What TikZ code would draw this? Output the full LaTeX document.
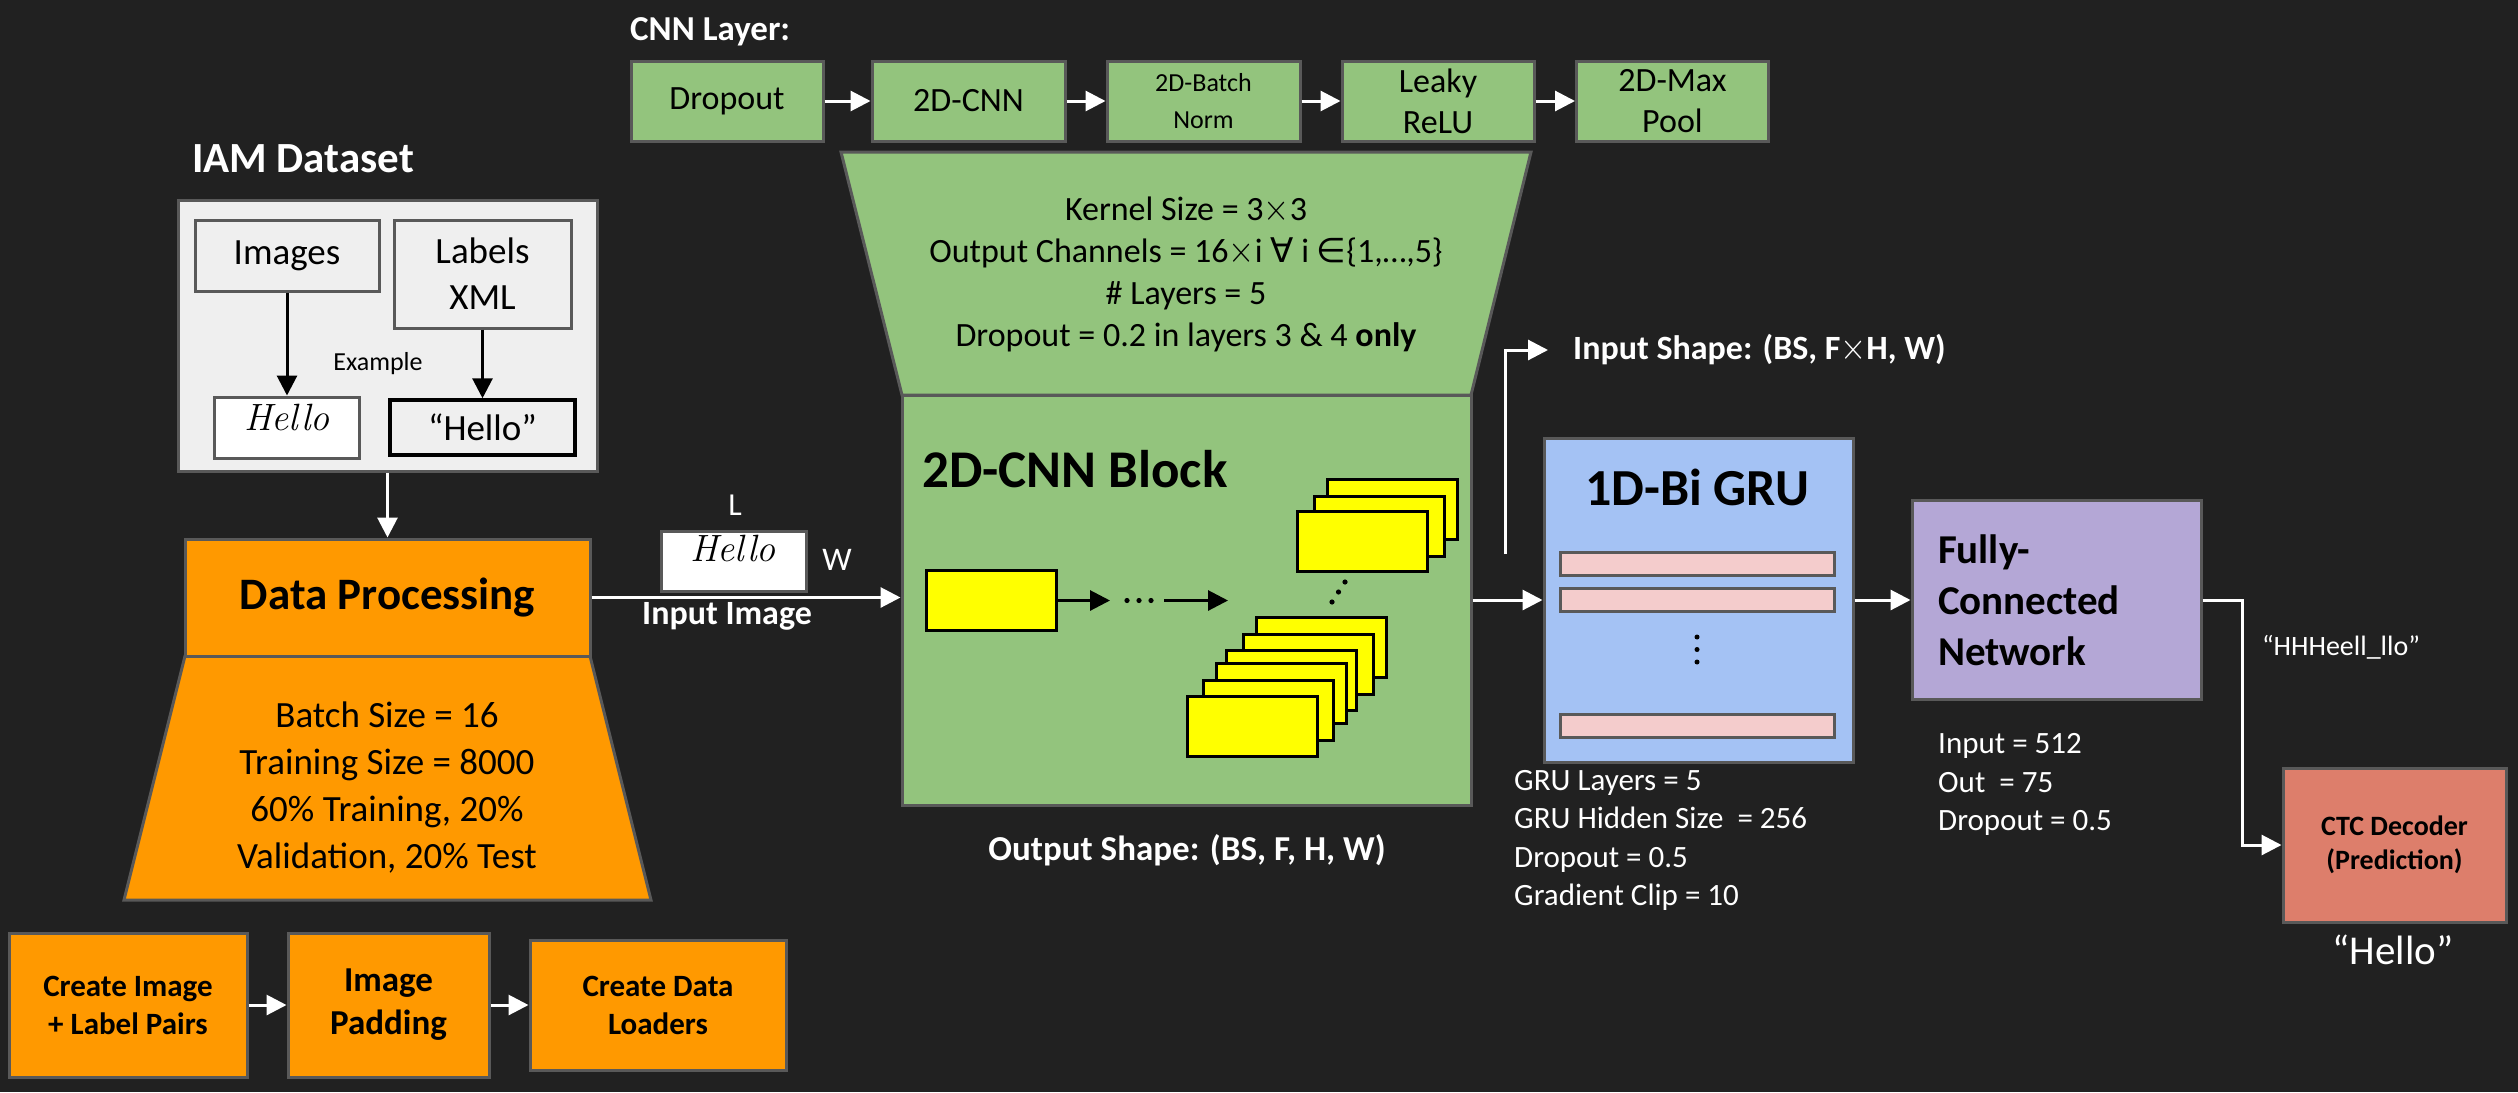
\documentclass[tikz,border=0pt]{standalone}
\usepackage{fontspec}
\setsansfont{Carlito}
\renewcommand*\familydefault{\sfdefault}
\newfontfamily\dejavu{DejaVu Sans}
\usetikzlibrary{arrows.meta}
\definecolor{bg}{HTML}{212121}
\definecolor{grn}{HTML}{93C47D}
\definecolor{org}{HTML}{FF9900}
\definecolor{blu}{HTML}{A4C2F4}
\definecolor{pur}{HTML}{B4A7D6}
\definecolor{redb}{HTML}{DD7E6B}
\definecolor{pnk}{HTML}{F4CCCC}
\definecolor{lgr}{HTML}{EFEFEF}
\definecolor{bdr}{HTML}{595959}
\definecolor{ylw}{HTML}{FFFF00}
\newcommand\fsz[2]{\fontsize{#1}{#2}\selectfont}
\newcommand\thinx{\scalebox{1.35}[1.5]{$\times$}}
\begin{document}
\begin{tikzpicture}[x=1pt,y=-1pt,
  box/.style={draw=bdr, line width=3pt, inner sep=0pt, align=center, text=black},
  ybox/.style={draw=black, fill=ylw, line width=3pt, minimum width=130pt, minimum height=60pt, inner sep=0pt},
  warr/.style={draw=white, line width=3pt, -{Triangle[length=20pt,width=20pt]}},
  barr/.style={draw=black, line width=3pt, -{Triangle[length=20pt,width=20pt]}},
  wtxt/.style={text=white, inner sep=0pt},
  btxt/.style={text=black, inner sep=0pt},
  hand/.style={text=black, inner sep=0pt, font=\rmfamily\itshape\fsz{38}{44}},
]
\fill[bg] (0,0) rectangle (2518,1092);
\useasboundingbox (0,0) rectangle (2518,1092);

% ---------- CNN layer row ----------
\node[wtxt, anchor=base west, font=\bfseries\fsz{35}{42}] (cnnlt) at (630,40) {CNN Layer:};
\node[box, fill=grn, minimum width=192pt, minimum height=80pt, font=\fsz{34}{41}] (drop) at (727,101) {Dropout};
\node[box, fill=grn, minimum width=193pt, minimum height=80pt, font=\fsz{34}{41}] (cnn2d) at (968.5,101) {2D-CNN};
\node[box, fill=grn, minimum width=193pt, minimum height=80pt, font=\fsz{26}{37}] (bn) at (1203.5,101) {2D-Batch\\Norm};
\node[box, fill=grn, minimum width=192pt, minimum height=80pt, font=\fsz{34}{41}] (leaky) at (1438,101) {Leaky\\ReLU};
\node[box, fill=grn, minimum width=192pt, minimum height=80pt, font=\fsz{34}{41}] (maxp) at (1672.5,101) {2D-Max\\Pool};
\draw[warr] (drop.east) -- (cnn2d.west);
\draw[warr] (cnn2d.east) -- (bn.west);
\draw[warr] (bn.east) -- (leaky.west);
\draw[warr] (leaky.east) -- (maxp.west);

% ---------- CNN trapezoid ----------
\draw[draw=bdr, fill=grn, line width=3pt] (841,152) -- (1531,152) -- (1471,395) -- (902,395) -- cycle;
\node[btxt, align=center, font=\fsz{34}{42}] (cnnp) at (1186,274)
  {Kernel Size = 3\thinx3\\
   Output Channels = 16\thinx i {\dejavu ∀} i {\dejavu ∈}\{1,…,5\}\\
   \# Layers = 5\\
   Dropout = 0.2 in layers 3 \& 4 \textbf{only}};

% ---------- CNN block ----------
\node[box, fill=grn, minimum width=569pt, minimum height=410pt] (cnnblock) at (1186.5,600) {};
\node[btxt, anchor=base west, font=\bfseries\fsz{53}{64}] (cnnbt) at (922,487) {2D-CNN Block};
\node[ybox] (y1) at (991,600.5) {};
\coordinate (a1e) at (1110,600.5);
\draw[barr] (y1.east) -- (a1e);
\node[inner sep=0pt, minimum width=48pt, minimum height=6pt] (hdots) at (1139,600.5) {};
\foreach \xx in {1127,1139,1151} \fill[black] (\xx,600.5) circle (2.6pt);
\coordinate (a2e) at (1228,600.5);
\draw[barr] (hdots.east) ++(1pt,0) -- (a2e);
% top stack
\node[ybox] (t1) at (1392,509) {};
\node[ybox] (t2) at (1379,526.5) {};
\node[ybox] (t3) at (1362.5,541.5) {};
\foreach \xx/\yy in {1345/582,1338.5/592,1332/602} \fill[black] (\xx,\yy) circle (2.6pt);
% bottom stack
\node[ybox] (b1) at (1321,647) {};
\node[ybox] (b2) at (1308,664) {};
\node[ybox] (b3) at (1291.5,680) {};
\node[ybox] (b4) at (1281.5,693) {};
\node[ybox] (b5) at (1268.5,710) {};
\node[ybox] (b6) at (1252,726) {};
\node[wtxt, font=\bfseries\fsz{35}{42}] (osh) at (1187,850) {Output Shape: (BS, F, H, W)};

% ---------- IAM dataset ----------
\node[wtxt, anchor=base, font=\bfseries\fsz{43}{52}] (iamt) at (303,172) {IAM Dataset};
\node[box, fill=lgr, minimum width=419pt, minimum height=271pt] (iam) at (387.5,335.5) {};
\node[box, fill=lgr, minimum width=184pt, minimum height=71pt, font=\fsz{37}{44}] (imgs) at (287,255.5) {Images};
\node[box, fill=lgr, minimum width=177pt, minimum height=108pt, font=\fsz{37}{46}] (lbl) at (482.5,274) {Labels\\XML};
\node[box, fill=white, minimum width=145pt, minimum height=61pt] (himg) at (287,427.5) {};
\node[hand] (hw1) at (287,417) {Hello};
\node[draw=black, line width=3.5pt, fill=lgr, minimum width=185pt, minimum height=55pt, inner sep=0pt, font=\fsz{37}{44}] (qh) at (482.5,427.5) {“Hello”};
\draw[barr] (imgs.south) -- (himg.north);
\draw[barr] (lbl.south) -- (qh.north);
\node[btxt, font=\fsz{26}{32}] (ex) at (378,364) {Example};

% ---------- Data processing ----------
\draw[draw=bdr, fill=org, line width=3pt] (185,656) -- (590,656) -- (651,900) -- (124,900) -- cycle;
\node[box, fill=org, minimum width=405pt, minimum height=117pt, font=\bfseries\fsz{45}{54}] (dp) at (387.5,597.5) {Data Processing};
\draw[warr] (iam.south) -- (dp.north);
\node[btxt, align=center, font=\fsz{37}{47}] (dpp) at (387,788)
  {Batch Size = 16\\Training Size = 8000\\60\% Training, 20\%\\Validation, 20\% Test};

\node[box, fill=org, minimum width=238pt, minimum height=144pt, font=\bfseries\fsz{31}{38}] (cip) at (128,1005) {Create Image\\+ Label Pairs};
\node[box, fill=org, minimum width=201pt, minimum height=144pt, font=\bfseries\fsz{35}{43}] (pad) at (388.5,1005) {Image\\Padding};
\node[box, fill=org, minimum width=256pt, minimum height=130pt, font=\bfseries\fsz{31}{38}] (cdl) at (658,1005) {Create Data\\Loaders};
\draw[warr] (cip.east) -- (pad.west);
\draw[warr] (pad.east) -- (cdl.west);

% ---------- input image ----------
\node[box, fill=white, minimum width=145pt, minimum height=60pt] (inimg) at (733.5,561) {};
\node[hand] (hw2) at (733,548) {Hello};
\node[wtxt, font=\fsz{32}{38}] (Ll) at (735,505) {L};
\node[wtxt, font=\fsz{33}{40}] (Wl) at (837,560) {W};
\node[wtxt, font=\bfseries\fsz{34}{41}] (iil) at (727,616) {Input Image};
\draw[warr] (dp.east) -- (dp.east -| cnnblock.west);

% ---------- GRU ----------
\node[box, fill=blu, minimum width=309pt, minimum height=324pt] (gru) at (1698.5,600) {};
\node[btxt, font=\bfseries\fsz{52}{62}] (grut) at (1697,487) {1D-Bi GRU};
\node[draw=bdr, line width=3pt, fill=pnk, minimum width=274pt, minimum height=23pt, inner sep=0pt] (bar1) at (1697,563.5) {};
\node[draw=bdr, line width=3pt, fill=pnk, minimum width=274pt, minimum height=23pt, inner sep=0pt] (bar2) at (1697,599.5) {};
\node[draw=bdr, line width=3pt, fill=pnk, minimum width=274pt, minimum height=23pt, inner sep=0pt] (bar3) at (1697,726) {};
\foreach \yy in {637,649.5,662} \fill[black] (1697,\yy) circle (2.5pt);
\draw[warr] (cnnblock.east) -- (gru.west);
\node[wtxt, anchor=west, align=left, font=\fsz{31}{38.3}] (grup) at (1514,840.5)
  {GRU Layers = 5\\GRU Hidden Size\ \ = 256\\Dropout = 0.5\\Gradient Clip = 10};

\coordinate (isc) at (1505,554);
\node[wtxt, anchor=west, font=\bfseries\fsz{34}{41}] (ish) at (1573,350) {Input Shape: (BS, F\thinx H, W)};
\draw[warr] (isc) |- ([xshift=-25pt]ish.west);

% ---------- FC ----------
\node[box, fill=pur, minimum height=199pt, text width=237pt, inner xsep=26pt, align=left, font=\bfseries\fsz{41}{51}] (fc) at (2056.5,600) {Fully-\\Connected\\Network};
\draw[warr] (gru.east) -- (fc.west);
\node[wtxt, anchor=west, align=left, font=\fsz{31}{38.5}] (fcp) at (1938,784.5)
  {Input = 512\\Out\ \ = 75\\Dropout = 0.5};

% ---------- CTC ----------
\node[box, fill=redb, minimum width=223pt, minimum height=154pt, font=\bfseries\fsz{28}{34}] (ctc) at (2394.5,845) {CTC Decoder\\(Prediction)};
\draw[warr] (fc.east) -- ++(40,0) |- (ctc.west);
\node[wtxt, font=\fsz{28}{34}] (hh) at (2341,647) {“HHHeell\_llo”};
\node[wtxt, font=\fsz{41}{50}] (hp) at (2393,950) {“Hello”};
\end{tikzpicture}
\end{document}
